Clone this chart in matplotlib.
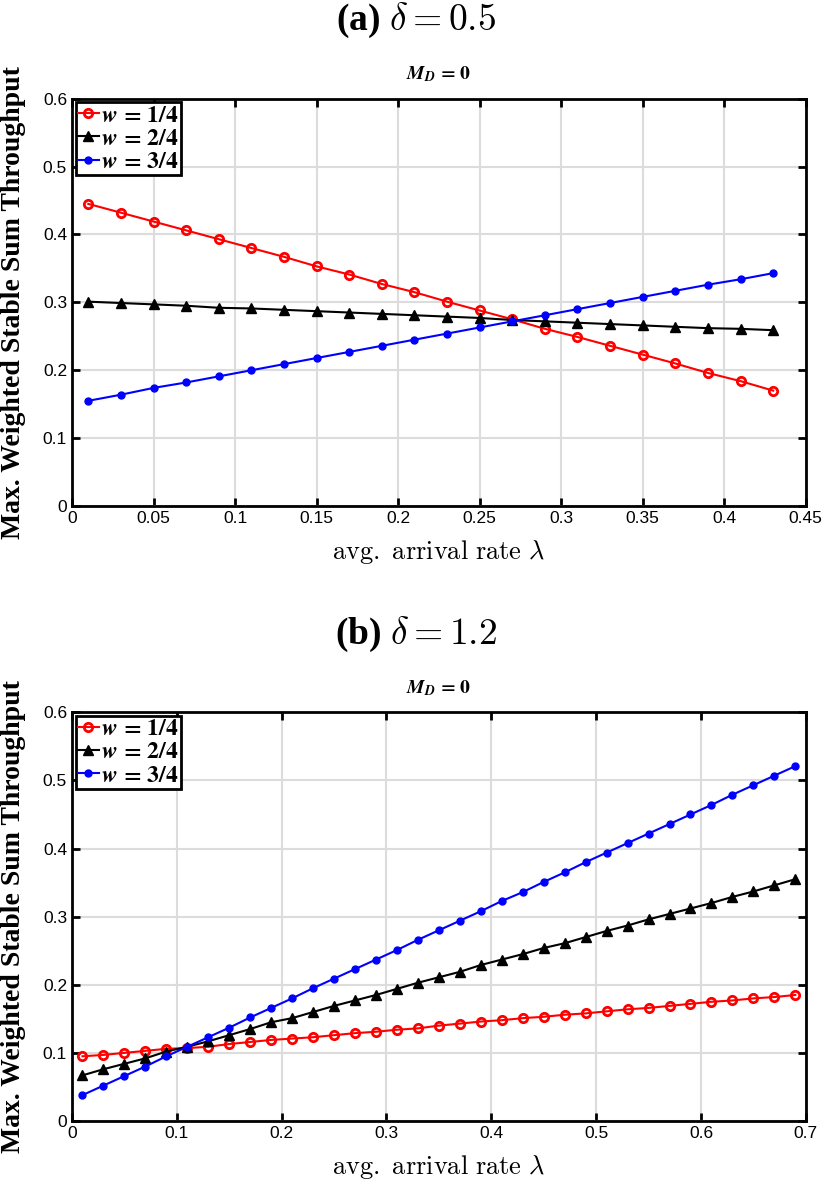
import numpy as np
import matplotlib
matplotlib.use('Agg')
import matplotlib.pyplot as plt
from matplotlib.font_manager import FontProperties

plt.rcParams['mathtext.fontset'] = 'cm'
plt.rcParams['font.family'] = ['Liberation Sans', 'DejaVu Sans']

# Data: (a) delta = 0.5
lam_a = [0.01, 0.03, 0.05, 0.07, 0.09, 0.11, 0.13, 0.15, 0.17, 0.19, 0.21,
         0.23, 0.25, 0.27, 0.29, 0.31, 0.33, 0.35, 0.37, 0.39, 0.41, 0.43]
w1_a = [0.445, 0.432, 0.419, 0.406, 0.393, 0.380, 0.367, 0.353, 0.341, 0.327, 0.315,
        0.301, 0.288, 0.275, 0.261, 0.249, 0.236, 0.223, 0.210, 0.196, 0.184, 0.170]
w2_a = [0.301, 0.299, 0.297, 0.295, 0.292, 0.291, 0.289, 0.287, 0.285, 0.283, 0.281,
        0.279, 0.277, 0.274, 0.272, 0.270, 0.268, 0.266, 0.264, 0.262, 0.261, 0.259]
w3_a = [0.155, 0.164, 0.174, 0.182, 0.191, 0.200, 0.209, 0.218, 0.227, 0.236, 0.245,
        0.254, 0.263, 0.272, 0.281, 0.290, 0.299, 0.308, 0.317, 0.326, 0.334, 0.343]

# Data: (b) delta = 1.2
lam_b = [0.01, 0.03, 0.05, 0.07, 0.09, 0.11, 0.13, 0.15, 0.17, 0.19, 0.21, 0.23,
         0.25, 0.27, 0.29, 0.31, 0.33, 0.35, 0.37, 0.39, 0.41, 0.43, 0.45, 0.47,
         0.49, 0.51, 0.53, 0.55, 0.57, 0.59, 0.61, 0.63, 0.65, 0.67, 0.69]
w1_b = [0.095, 0.097, 0.100, 0.103, 0.106, 0.107, 0.109, 0.113, 0.116, 0.119, 0.121, 0.123,
        0.126, 0.129, 0.131, 0.134, 0.136, 0.140, 0.143, 0.146, 0.148, 0.151, 0.153, 0.156,
        0.158, 0.161, 0.164, 0.166, 0.169, 0.172, 0.175, 0.177, 0.180, 0.182, 0.185]
w2_b = [0.067, 0.076, 0.084, 0.092, 0.102, 0.109, 0.117, 0.126, 0.135, 0.145, 0.151, 0.160,
        0.169, 0.177, 0.185, 0.194, 0.203, 0.211, 0.219, 0.229, 0.237, 0.245, 0.254, 0.261,
        0.270, 0.279, 0.287, 0.296, 0.304, 0.312, 0.320, 0.329, 0.337, 0.346, 0.355]
w3_b = [0.038, 0.052, 0.066, 0.080, 0.095, 0.109, 0.123, 0.137, 0.152, 0.166, 0.180, 0.195,
        0.209, 0.223, 0.237, 0.251, 0.266, 0.280, 0.294, 0.308, 0.323, 0.336, 0.351, 0.365,
        0.380, 0.394, 0.408, 0.422, 0.436, 0.450, 0.464, 0.479, 0.493, 0.507, 0.521]

labels = [r'$\mathbfit{w}\mathbf{\,=\,1/4}$', r'$\mathbfit{w}\mathbf{\,=\,2/4}$',
          r'$\mathbfit{w}\mathbf{\,=\,3/4}$']
xticks_a = [0, 0.05, 0.1, 0.15, 0.2, 0.25, 0.3, 0.35, 0.4, 0.45]
xticks_b = [0, 0.1, 0.2, 0.3, 0.4, 0.5, 0.6, 0.7]
yticks = [0, 0.1, 0.2, 0.3, 0.4, 0.5, 0.6]

fig = plt.figure(figsize=(8.32, 11.88), dpi=100)
ax1 = fig.add_axes([0.0865, 0.574, 0.882, 0.343])
ax2 = fig.add_axes([0.0865, 0.0564, 0.882, 0.344])

panels = [(ax1, lam_a, w1_a, w2_a, w3_a, xticks_a, 0.45, '(a)', r'$\delta = 0.5$'),
          (ax2, lam_b, w1_b, w2_b, w3_b, xticks_b, 0.7, '(b)', r'$\delta = 1.2$')]

stix = FontProperties(size=17, math_fontfamily='stix')

for ax, x, y1, y2, y3, xt, xmax, tag, dl in panels:
    ax.plot(x, y1, color='#ff0000', marker='o', mfc='none', mec='#ff0000', mew=2,
            ms=6, lw=1.5, label=labels[0])
    ax.plot(x, y2, color='k', marker='^', ms=7, lw=1.5, label=labels[1])
    ax.plot(x, y3, color='#0000ff', marker='o', ms=5, lw=1.5, label=labels[2])
    ax.set_xlim(0, xmax)
    ax.set_ylim(0, 0.6)
    ax.set_xticks(xt)
    ax.set_xticklabels([('%g' % v) for v in xt])
    ax.set_yticks(yticks)
    ax.set_yticklabels([('%g' % v) for v in yticks])
    ax.grid(True, color='#dcdcdc', lw=1.5)
    ax.set_axisbelow(True)
    ax.tick_params(direction='in', length=6, width=2, labelsize=12.5,
                   top=True, right=True)
    for s in ax.spines.values():
        s.set_linewidth(2)
    ax.set_xlabel(r'$\mathrm{avg.\ arrival\ rate}\ \lambda$', fontsize=19, labelpad=9)
    ax.set_ylabel('Max. Weighted Stable Sum Throughput', fontsize=20,
                  family='Liberation Serif', weight='bold')
    ax.yaxis.set_label_coords(-0.062, 0.5)
    ax.set_title(r'$\mathbfit{M_D}\mathbf{\,=\,0}$', fontsize=14, pad=14,
                 math_fontfamily='stix')
    leg = ax.legend(loc='upper left', prop=stix, fancybox=False, framealpha=1,
                    edgecolor='k', handlelength=0.9, handletextpad=0.1,
                    borderpad=0.1, labelspacing=0.05, borderaxespad=0.15)
    leg.get_frame().set_linewidth(2)
    pos = ax.get_position()
    fig.text(0.5, pos.y1 + 0.066, tag + ' ' + dl, ha='center', va='center',
             fontsize=27, family='Liberation Serif', weight='bold')

fig.savefig('out.png', dpi=100)
